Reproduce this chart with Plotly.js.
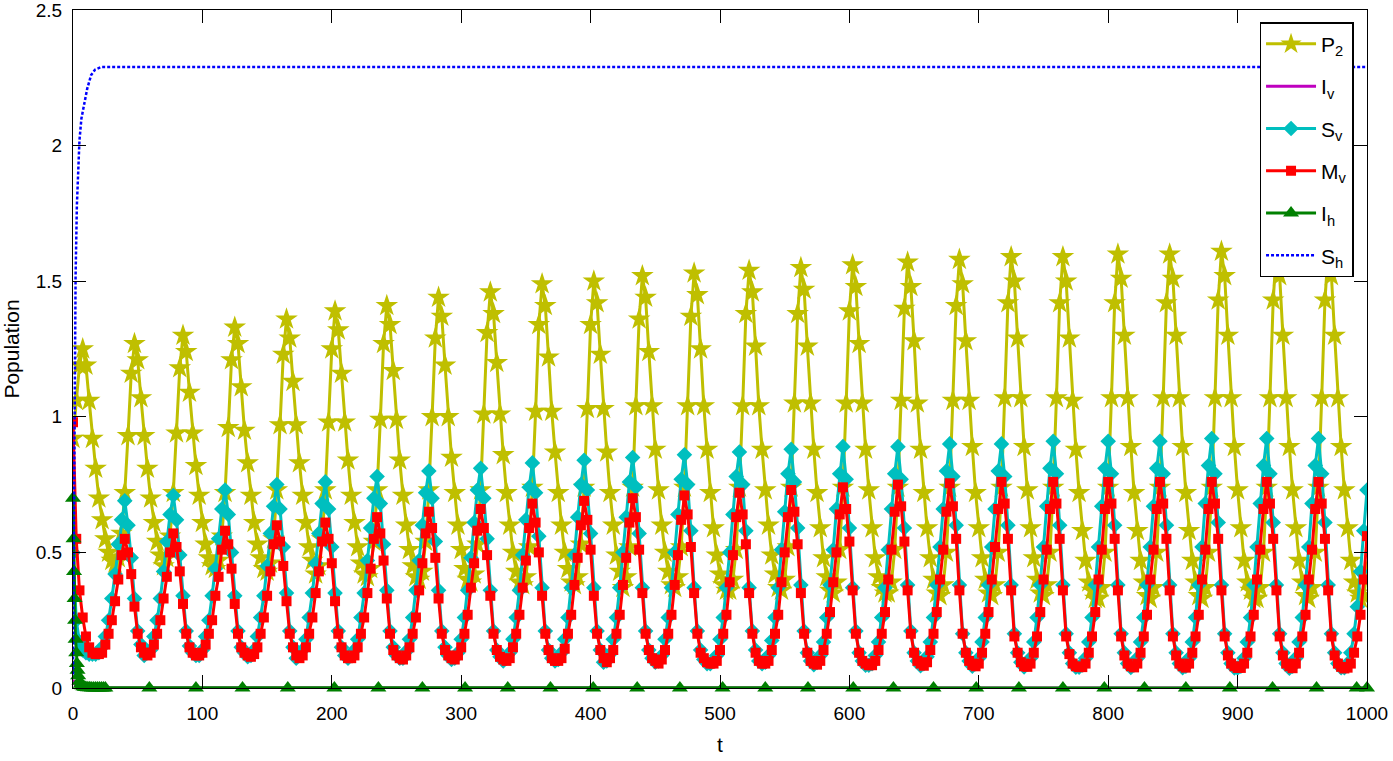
<!DOCTYPE html>
<html>
<head>
<meta charset="utf-8">
<script src="https://cdn.plot.ly/plotly-3.0.1.min.js"></script>
<style>
  html, body { margin: 0; padding: 0; background: #fff; }
  #chart { width: 1393px; height: 761px; }
</style>
</head>
<body>
<div id="chart"></div>
<script>
// solution sampled every 2.5 time units, t = 0 ... 1000 (401 samples)
const tStart = 0;
const tStep = 2.5;

const P2 = [
  0.92, 1.06, 1.19,
  1.25,1.19,1.06,0.92,0.81,0.70,0.62,0.55,0.50,0.47,0.46,0.48,0.57,0.72,0.93,1.16,
  1.27,1.21,1.07,0.93,0.81,0.70,0.61,0.54,0.49,0.45,0.48,0.56,0.72,0.94,1.18,
  1.30,1.24,1.09,0.94,0.82,0.71,0.61,0.53,0.48,0.45,0.44,0.47,0.56,0.72,0.96,1.21,
  1.33,1.27,1.11,0.95,0.83,0.71,0.61,0.53,0.48,0.44,0.43,0.46,0.55,0.73,0.97,1.23,
  1.36,1.29,1.13,0.97,0.83,0.71,0.61,0.52,0.47,0.42,0.45,0.55,0.73,0.98,1.25,
  1.39,1.32,1.16,0.98,0.84,0.71,0.61,0.52,0.46,0.42,0.41,0.44,0.54,0.73,0.99,1.27,
  1.41,1.34,1.17,0.99,0.84,0.71,0.60,0.51,0.45,0.41,0.40,0.43,0.54,0.73,1.00,1.29,
  1.44,1.37,1.19,1.00,0.85,0.72,0.60,0.51,0.44,0.40,0.39,0.42,0.53,0.73,1.01,1.31,
  1.46,1.38,1.20,1.01,0.86,0.72,0.60,0.50,0.43,0.39,0.38,0.41,0.52,0.74,1.02,1.34,
  1.49,1.41,1.22,1.02,0.87,0.72,0.60,0.50,0.44,0.39,0.38,0.41,0.53,0.74,1.03,1.34,
  1.50,1.42,1.23,1.03,0.87,0.72,0.60,0.49,0.43,0.37,0.41,0.52,0.74,1.04,1.36,
  1.52,1.44,1.24,1.04,0.88,0.73,0.60,0.50,0.43,0.38,0.37,0.41,0.52,0.74,1.04,1.37,
  1.53,1.45,1.25,1.04,0.88,0.72,0.59,0.49,0.42,0.38,0.36,0.36,0.40,0.51,0.74,1.04,1.38,
  1.54,1.46,1.26,1.04,0.88,0.73,0.60,0.49,0.42,0.37,0.36,0.40,0.52,0.74,1.05,1.38,
  1.55,1.47,1.26,1.05,0.88,0.72,0.59,0.48,0.41,0.36,0.35,0.39,0.51,0.74,1.05,1.39,
  1.56,1.48,1.27,1.05,0.88,0.73,0.59,0.48,0.41,0.37,0.35,0.35,0.39,0.51,0.74,1.06,1.40,
  1.57,1.48,1.28,1.05,0.88,0.72,0.59,0.48,0.40,0.35,0.34,0.38,0.50,0.74,1.06,1.41,
  1.58,1.49,1.28,1.06,0.89,0.72,0.59,0.48,0.40,0.35,0.34,0.38,0.50,0.74,1.07,1.42,
  1.59,1.50,1.29,1.07,0.89,0.73,0.59,0.48,0.40,0.35,0.34,0.38,0.50,0.74,1.07,1.42,
  1.59,1.50,1.29,1.06,0.88,0.72,0.58,0.47,0.39,0.36,0.33,0.33,0.37,0.50,0.74,1.07,1.42,
  1.60,1.51,1.30,1.07,0.89,0.72,0.58,0.47,0.39,0.34,0.33,0.37,0.50,0.74,1.07,1.42,
  1.60,1.51,1.30,1.07,0.89,0.72,0.58,0.47,0.39,0.34,0.33,0.37,0.50,0.74,1.07,1.43,
  1.61,1.52,1.30,1.07,0.89,0.73,0.59,0.47,0.39,0.36,0.33,0.33,0.37,0.50,0.74,1.07,1.43,
  1.61,1.52,1.30,1.07,0.89,0.73,0.59,0.47,0.39,0.34,0.33,0.37,0.50,0.74,1.07,1.43,
  1.61,1.52,1.30,1.07,0.89,0.73,0.59,0.47,0.39,0.35,0.33,0.34,0.43
];

const Sv = [
  0.50, 0.25, 0.17,
  0.14,0.13,0.125,0.125,0.125,0.13,0.15,0.19,0.25,0.33,0.42,0.53,0.62,0.69,0.60,0.48,
  0.33,0.21,0.16,0.12,0.13,0.14,0.19,0.25,0.33,0.43,0.54,0.64,0.71,0.62,0.49,
  0.34,0.21,0.155,0.13,0.12,0.12,0.14,0.19,0.25,0.34,0.44,0.55,0.66,0.73,0.64,0.50,
  0.34,0.21,0.15,0.13,0.115,0.12,0.14,0.19,0.26,0.34,0.45,0.57,0.67,0.75,0.66,0.52,
  0.35,0.21,0.15,0.11,0.12,0.14,0.18,0.26,0.35,0.46,0.57,0.68,0.76,0.66,0.52,
  0.35,0.21,0.15,0.12,0.11,0.12,0.14,0.18,0.26,0.35,0.47,0.59,0.70,0.78,0.68,0.53,
  0.36,0.21,0.15,0.12,0.11,0.11,0.135,0.18,0.26,0.36,0.47,0.60,0.72,0.80,0.70,0.54,
  0.36,0.21,0.15,0.12,0.105,0.11,0.13,0.18,0.26,0.36,0.48,0.61,0.73,0.81,0.70,0.55,
  0.36,0.21,0.14,0.115,0.10,0.11,0.13,0.18,0.26,0.36,0.49,0.62,0.74,0.83,0.72,0.56,
  0.37,0.21,0.14,0.11,0.10,0.105,0.13,0.18,0.26,0.37,0.49,0.63,0.75,0.84,0.73,0.57,
  0.37,0.21,0.14,0.095,0.10,0.125,0.18,0.26,0.37,0.50,0.63,0.76,0.85,0.74,0.57,
  0.37,0.21,0.14,0.11,0.095,0.10,0.12,0.18,0.26,0.37,0.50,0.64,0.77,0.86,0.75,0.58,
  0.37,0.21,0.14,0.105,0.09,0.09,0.10,0.12,0.18,0.26,0.37,0.50,0.64,0.78,0.87,0.75,0.58,
  0.37,0.21,0.14,0.10,0.09,0.095,0.12,0.175,0.26,0.37,0.51,0.65,0.79,0.88,0.76,0.59,
  0.38,0.21,0.13,0.10,0.086,0.094,0.12,0.17,0.26,0.38,0.51,0.66,0.79,0.89,0.77,0.59,
  0.37,0.21,0.13,0.10,0.084,0.084,0.09,0.12,0.17,0.26,0.37,0.51,0.66,0.79,0.89,0.77,0.59,
  0.38,0.21,0.13,0.10,0.082,0.09,0.115,0.17,0.26,0.38,0.52,0.66,0.80,0.90,0.78,0.60,
  0.38,0.20,0.13,0.10,0.08,0.09,0.11,0.17,0.26,0.38,0.52,0.66,0.80,0.90,0.78,0.60,
  0.38,0.20,0.13,0.095,0.078,0.09,0.11,0.17,0.26,0.38,0.52,0.67,0.81,0.91,0.79,0.60,
  0.38,0.20,0.13,0.09,0.077,0.077,0.085,0.11,0.17,0.26,0.38,0.52,0.67,0.81,0.91,0.79,0.60,
  0.38,0.20,0.13,0.09,0.076,0.085,0.11,0.17,0.26,0.38,0.52,0.67,0.81,0.91,0.79,0.60,
  0.38,0.20,0.13,0.09,0.075,0.08,0.11,0.17,0.26,0.38,0.52,0.68,0.82,0.92,0.79,0.61,
  0.38,0.20,0.13,0.09,0.074,0.074,0.08,0.11,0.17,0.26,0.38,0.52,0.68,0.82,0.92,0.79,0.61,
  0.38,0.20,0.13,0.09,0.073,0.08,0.11,0.17,0.26,0.38,0.52,0.68,0.82,0.92,0.79,0.61,
  0.38,0.20,0.13,0.09,0.075,0.075,0.09,0.13,0.20,0.30,0.43,0.58,0.73
];

const Mv = [
  0.98, 0.55, 0.36,
  0.26,0.19,0.15,0.13,0.125,0.125,0.13,0.16,0.20,0.25,0.32,0.40,0.49,0.55,0.50,0.42,
  0.30,0.20,0.15,0.13,0.12,0.13,0.16,0.20,0.25,0.33,0.41,0.50,0.57,0.52,0.43,
  0.31,0.20,0.15,0.13,0.12,0.12,0.13,0.16,0.20,0.25,0.34,0.41,0.51,0.58,0.53,0.44,
  0.31,0.20,0.15,0.13,0.12,0.115,0.125,0.15,0.20,0.26,0.34,0.43,0.53,0.60,0.54,0.45,
  0.32,0.20,0.15,0.12,0.11,0.12,0.15,0.20,0.26,0.35,0.43,0.54,0.61,0.55,0.46,
  0.32,0.20,0.15,0.12,0.11,0.11,0.12,0.15,0.20,0.26,0.35,0.44,0.55,0.63,0.57,0.47,
  0.33,0.20,0.14,0.12,0.11,0.105,0.12,0.15,0.20,0.26,0.36,0.46,0.57,0.65,0.59,0.48,
  0.33,0.20,0.14,0.12,0.11,0.105,0.12,0.15,0.20,0.27,0.37,0.46,0.58,0.66,0.59,0.49,
  0.34,0.20,0.14,0.115,0.105,0.10,0.11,0.15,0.20,0.27,0.37,0.47,0.59,0.68,0.61,0.50,
  0.34,0.20,0.14,0.11,0.10,0.10,0.11,0.145,0.20,0.27,0.38,0.48,0.60,0.69,0.62,0.51,
  0.34,0.20,0.14,0.11,0.095,0.11,0.14,0.20,0.27,0.38,0.48,0.61,0.70,0.63,0.51,
  0.35,0.20,0.14,0.11,0.10,0.09,0.105,0.14,0.20,0.27,0.38,0.49,0.62,0.71,0.64,0.52,
  0.35,0.20,0.13,0.11,0.095,0.09,0.09,0.10,0.14,0.20,0.27,0.39,0.49,0.63,0.72,0.64,0.53,
  0.35,0.20,0.13,0.10,0.09,0.09,0.10,0.14,0.20,0.27,0.39,0.50,0.63,0.73,0.65,0.53,
  0.35,0.20,0.13,0.10,0.09,0.086,0.10,0.14,0.20,0.28,0.39,0.50,0.64,0.74,0.66,0.54,
  0.36,0.20,0.13,0.10,0.09,0.084,0.084,0.10,0.14,0.20,0.28,0.40,0.51,0.65,0.75,0.67,0.54,
  0.36,0.20,0.13,0.10,0.09,0.082,0.095,0.14,0.20,0.28,0.40,0.51,0.65,0.755,0.67,0.55,
  0.36,0.20,0.13,0.10,0.085,0.08,0.09,0.13,0.20,0.28,0.40,0.52,0.66,0.76,0.68,0.55,
  0.36,0.19,0.13,0.095,0.08,0.078,0.09,0.13,0.19,0.28,0.40,0.51,0.66,0.76,0.68,0.55,
  0.36,0.19,0.125,0.09,0.08,0.077,0.077,0.09,0.13,0.19,0.28,0.40,0.51,0.66,0.76,0.68,0.55,
  0.36,0.19,0.12,0.09,0.08,0.076,0.09,0.13,0.19,0.27,0.40,0.51,0.66,0.76,0.68,0.55,
  0.36,0.19,0.12,0.09,0.08,0.075,0.09,0.13,0.19,0.27,0.40,0.51,0.66,0.76,0.68,0.55,
  0.36,0.19,0.12,0.09,0.08,0.074,0.074,0.09,0.13,0.19,0.27,0.40,0.51,0.66,0.76,0.68,0.55,
  0.36,0.19,0.12,0.09,0.08,0.073,0.09,0.13,0.19,0.27,0.40,0.51,0.66,0.76,0.68,0.55,
  0.36,0.19,0.12,0.09,0.078,0.072,0.075,0.09,0.13,0.19,0.27,0.40,0.56
];

// I_h is only marked at the solver points shown in the figure
const ihT = [0,0.4,0.8,1.2,1.6,2,2.5,3,3.5,4,5,6,7,8,9,10,11.5,13,14.5,16,17.5,19,20.5,22,23.5,25,
  59,95,131,166,202,236,270,303,336,369,402,436,469,502,535,568,603,634,665,698,
  731,765,797,828,860,894,927,961,992,1000];
const Ih = [0.70,0.55,0.43,0.33,0.25,0.18,0.13,0.09,0.065,0.045,0.025,0.014,0.008,0.005,0.003,0.002,
  0.001,0.001,0,0,0,0,0,0,0,0,
  0,0,0,0,0,0,0,0,0,0,0,0,0,0,0,0,0,0,0,0,
  0,0,0,0,0,0,0,0,0,0];

const ivT = [0, 1, 2, 4, 8, 1000];
const Iv = [0.03, 0.015, 0.008, 0.002, 0, 0];

const shT = [0, 0.5, 1, 1.5, 2, 3, 4, 5, 6.5, 8.5, 11, 14, 17, 22, 1000];
const Sh = [0.05, 0.5, 0.95, 1.3, 1.52, 1.78, 1.93, 2.02, 2.1, 2.15, 2.21, 2.26, 2.28, 2.29, 2.29];

const xTicks = [0, 100, 200, 300, 400, 500, 600, 700, 800, 900, 1000];
const yTicks = [0, 0.5, 1, 1.5, 2, 2.5];
const yTickText = ['0', '0.5', '1', '1.5', '2', '2.5'];

const FONT = 'Liberation Sans, Arial, Helvetica, sans-serif';

const traces = [
  {
    name: 'P<sub>2</sub>', legendgroup: 'a',
    y: P2, x0: tStart, dx: tStep,
    mode: 'lines+markers',
    line: { color: '#bfbf00', width: 3 },
    marker: { symbol: 'star', size: 17, color: '#bfbf00' }
  },
  {
    name: 'I<sub>v</sub>', legendgroup: 'b',
    x: ivT, y: Iv,
    mode: 'lines',
    line: { color: '#bf00bf', width: 3 }
  },
  {
    name: 'S<sub>v</sub>', legendgroup: 'c',
    y: Sv, x0: tStart, dx: tStep,
    mode: 'lines+markers',
    line: { color: '#00bfbf', width: 3 },
    marker: { symbol: 'diamond', size: 12, color: '#00bfbf' }
  },
  {
    name: 'M<sub>v</sub>', legendgroup: 'd',
    y: Mv, x0: tStart, dx: tStep,
    mode: 'lines+markers',
    line: { color: '#ff0000', width: 3 },
    marker: { symbol: 'square', size: 10, color: '#ff0000' }
  },
  {
    name: 'I<sub>h</sub>', legendgroup: 'e',
    x: ihT, y: Ih,
    mode: 'lines+markers',
    cliponaxis: false,
    line: { color: '#008000', width: 3 },
    marker: { symbol: 'triangle-up', size: 14, color: '#008000' }
  },
  {
    name: 'S<sub>h</sub>', legendgroup: 'f',
    x: shT, y: Sh,
    mode: 'lines',
    line: { color: '#0000ff', width: 2.5, dash: '3px,2px' }
  }
];

const axisCommon = {
  showgrid: false,
  zeroline: false,
  showline: true,
  linecolor: '#000',
  linewidth: 1,
  mirror: 'ticks',
  ticks: 'inside',
  ticklen: 13,
  tickwidth: 1,
  tickcolor: '#000',
  ticklabeloverflow: 'allow',
  tickfont: { family: FONT, size: 19, color: '#000' }
};

const layout = {
  width: 1393,
  height: 761,
  margin: { l: 73, r: 26, t: 10, b: 73, pad: 0 },
  paper_bgcolor: '#fff',
  plot_bgcolor: '#fff',
  font: { family: FONT, size: 19, color: '#000' },
  showlegend: true,
  xaxis: Object.assign({}, axisCommon, {
    range: [0, 1000],
    tickmode: 'array', tickvals: xTicks,
    ticklabelstandoff: 8,
    title: { text: 't', font: { family: FONT, size: 21, color: '#000' }, standoff: 14 }
  }),
  yaxis: Object.assign({}, axisCommon, {
    range: [0, 2.5],
    tickmode: 'array', tickvals: yTicks, ticktext: yTickText,
    ticklabelstandoff: 6,
    title: { text: 'Population', font: { family: FONT, size: 21, color: '#000' }, standoff: 10 }
  }),
  legend: {
    x: 0.9896, xanchor: 'right',
    y: 0.982, yanchor: 'top',
    bgcolor: '#fff',
    bordercolor: '#000',
    borderwidth: 1.5,
    font: { family: FONT, size: 21, color: '#000' },
    tracegroupgap: 12,
    itemwidth: 50
  }
};

Plotly.newPlot('chart', traces, layout, { displayModeBar: false, staticPlot: true });
</script>
</body>
</html>
